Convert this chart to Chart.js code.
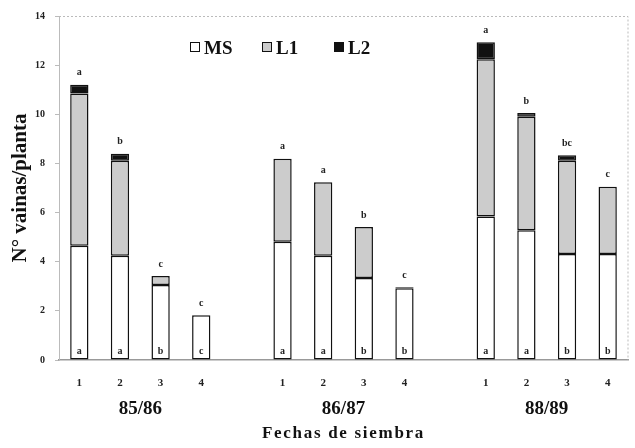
<!DOCTYPE html>
<html>
<head>
<meta charset="utf-8">
<script src="https://cdn.jsdelivr.net/npm/chart.js@4.4.1/dist/chart.umd.min.js"></script>
<style>
  html, body { margin: 0; padding: 0; background: #fff; }
  #wrap { width: 635px; height: 448px; }
</style>
</head>
<body>
<div id="wrap"><canvas id="vainasChart" width="635" height="448"></canvas></div>
<script>
  // fechas de siembra por campaña (huecos vacíos entre campañas)
  const fechas = ['1', '2', '3', '4', '', '1', '2', '3', '4', '', '1', '2', '3', '4'];
  const campanas = ['85/86', '86/87', '88/89'];
  const yTicks = [0, 2, 4, 6, 8, 10, 12, 14];

  // vainas por planta según posición
  const ms = [4.65, 4.24, 3.05, 1.82, null, 4.81, 4.24, 3.34, 2.92, null, 5.84, 5.28, 4.31, 4.31];
  const l1 = [6.2, 3.87, 0.37, null, null, 3.38, 2.99, 2.07, null, null, 6.4, 4.62, 3.8, 2.74];
  const l2 = [0.35, 0.28, null, null, null, null, null, null, 0.04, null, 0.69, 0.15, 0.22, null];

  // letras de significación: total (arriba) y MS (base)
  const letrasTotal = ['a', 'b', 'c', 'c', '', 'a', 'a', 'b', 'c', '', 'a', 'b', 'bc', 'c'];
  const letrasMS = ['a', 'a', 'b', 'c', '', 'a', 'a', 'b', 'b', '', 'a', 'a', 'b', 'b'];

  const serif = '"Liberation Serif", "DejaVu Serif", serif';

  const extras = {
    id: 'extras',
    afterDraw(chart) {
      const ctx = chart.ctx;
      const area = chart.chartArea;
      const x = chart.scales.x;
      const y = chart.scales.y;
      ctx.save();

      // borde punteado superior y derecho
      ctx.strokeStyle = '#bbb';
      ctx.lineWidth = 1;
      ctx.setLineDash([2, 2]);
      ctx.beginPath();
      ctx.moveTo(area.left, area.top + 0.5);
      ctx.lineTo(area.right, area.top + 0.5);
      ctx.lineTo(area.right, area.bottom);
      ctx.stroke();
      ctx.setLineDash([]);

      // letras encima y en la base de cada barra
      ctx.fillStyle = '#222';
      ctx.textAlign = 'center';
      ctx.textBaseline = 'middle';
      ctx.font = 'bold 10px ' + serif;
      fechas.forEach((f, i) => {
        if (!f) return;
        const total = (ms[i] || 0) + (l1[i] || 0) + (l2[i] || 0);
        const px = x.getPixelForValue(i);
        ctx.fillText(letrasTotal[i], px, y.getPixelForValue(total) - 12);
        ctx.fillText(letrasMS[i], px, y.getPixelForValue(0) - 9);
      });

      // etiquetas de campaña
      ctx.font = 'bold 19px ' + serif;
      ctx.fillStyle = '#111';
      campanas.forEach((c, g) => {
        const px = (x.getPixelForValue(g * 5 + 1) + x.getPixelForValue(g * 5 + 2)) / 2;
        ctx.fillText(c, px, 409);
      });

      // título del eje x
      ctx.font = 'bold 17px ' + serif;
      ctx.letterSpacing = '1.7px';
      ctx.fillText('Fechas de siembra', (area.left + area.right) / 2, 434);
      ctx.letterSpacing = '0px';

      // leyenda dentro del área
      ctx.textAlign = 'left';
      ctx.font = 'bold 19px ' + serif;
      let lx = area.left + 131;
      const ly = 47;
      chart.data.datasets.forEach(ds => {
        ctx.fillStyle = ds.backgroundColor;
        ctx.fillRect(lx, ly - 5, 9, 9);
        ctx.strokeStyle = '#111';
        ctx.lineWidth = 1;
        ctx.strokeRect(lx + 0.5, ly - 4.5, 9, 9);
        ctx.fillStyle = '#111';
        ctx.fillText(ds.label, lx + 14, ly + 2);
        lx += 72;
      });

      ctx.restore();
    }
  };

  const ctx = document.getElementById('vainasChart').getContext('2d');
  new Chart(ctx, {
    type: 'bar',
    data: {
      labels: fechas,
      datasets: [
        { label: 'MS', data: ms, backgroundColor: '#ffffff' },
        { label: 'L1', data: l1, backgroundColor: '#cccccc' },
        { label: 'L2', data: l2, backgroundColor: '#111111' }
      ]
    },
    options: {
      responsive: false,
      animation: false,
      devicePixelRatio: 1,
      layout: { padding: { left: 0, right: 7, top: 8, bottom: 0 } },
      datasets: {
        bar: {
          borderColor: '#111',
          borderWidth: 1.5,
          borderSkipped: false,
          barPercentage: 0.45,
          categoryPercentage: 1
        }
      },
      plugins: {
        legend: { display: false },
        tooltip: { enabled: false }
      },
      scales: {
        x: {
          stacked: true,
          grid: { display: false, drawTicks: false },
          border: { display: true, color: '#999', width: 1.5 },
          ticks: {
            color: '#222',
            font: { family: serif, size: 11, weight: 'bold' },
            padding: 17,
            autoSkip: false,
            maxRotation: 0
          },
          afterFit(scale) { scale.height = 88; }
        },
        y: {
          stacked: true,
          min: 0,
          max: 14,
          afterBuildTicks(scale) { scale.ticks = yTicks.map(v => ({ value: v })); },
          grid: { display: true, drawOnChartArea: false, drawTicks: true, tickLength: 4, color: '#bbb' },
          border: { display: true, color: '#bbb', width: 1, dash: [2, 2] },
          ticks: {
            color: '#222',
            font: { family: serif, size: 10, weight: 'bold' },
            padding: 10
          },
          title: {
            display: true,
            text: 'N° vainas/planta',
            color: '#111',
            font: { family: serif, size: 21, weight: 'bold' },
            padding: { top: 8, bottom: 0 }
          },
          afterFit(scale) { scale.width = 59; }
        }
      }
    },
    plugins: [extras]
  });
</script>
</body>
</html>
